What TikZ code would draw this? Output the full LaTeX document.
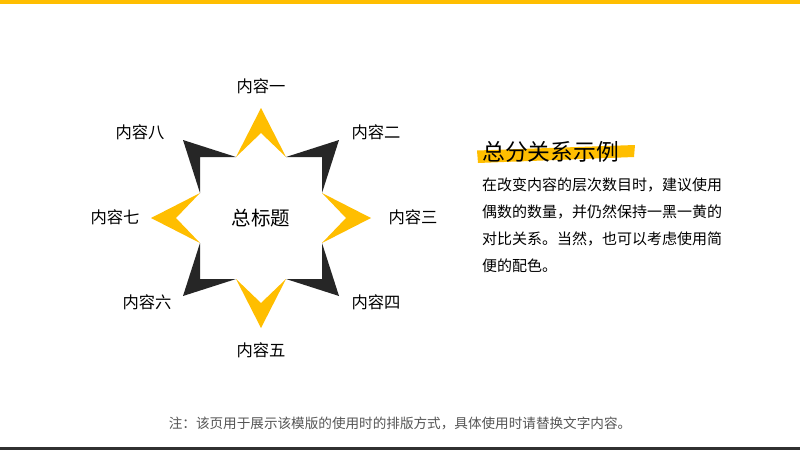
\documentclass[tikz,border=0pt]{standalone}
\usepackage{fontspec}
\setmainfont{Noto Sans CJK SC}
\definecolor{myyellow}{HTML}{FFBE00}
\definecolor{myblack}{HTML}{262626}
\definecolor{notegray}{HTML}{555555}
\begin{document}
\begin{tikzpicture}[x=1pt,y=-1pt,
  lbl/.style={font=\fontsize{16.3}{18}\selectfont, text=black, inner sep=0pt},
  ypiece/.style={fill=myyellow, draw=none},
  bpiece/.style={fill=myblack, draw=none}]
\useasboundingbox (0,0) rectangle (800,450);
\fill[white] (0,0) rectangle (800,450);
% top and bottom bars
\fill[myyellow] (0,0) rectangle (800,3.5);
\fill[myblack!95] (0,446.5) rectangle (800,450);
% star
\begin{scope}[shift={(261,218)}]
  \fill[ypiece] (-25,-61) -- (0,-110) -- (25,-61) -- (0,-85) -- cycle;
  \fill[ypiece] (-25,61) -- (0,110) -- (25,61) -- (0,85) -- cycle;
  \fill[ypiece] (-61,-25) -- (-110,0) -- (-61,25) -- (-85,0) -- cycle;
  \fill[ypiece] (61,-25) -- (110,0) -- (61,25) -- (85,0) -- cycle;
  \fill[bpiece] (25,-61) -- (78,-78) -- (61,-25) -- (61,-61) -- cycle;
  \fill[bpiece] (-25,-61) -- (-78,-78) -- (-61,-25) -- (-61,-61) -- cycle;
  \fill[bpiece] (25,61) -- (78,78) -- (61,25) -- (61,61) -- cycle;
  \fill[bpiece] (-25,61) -- (-78,78) -- (-61,25) -- (-61,61) -- cycle;
\end{scope}
\node[font=\fontsize{19.5}{22}\selectfont, inner sep=0pt] (c) at (261,218) {总标题};
% labels
\node[lbl] (l1) at (261,86) {内容一};
\node[lbl] (l2) at (376,132) {内容二};
\node[lbl] (l3) at (413,217) {内容三};
\node[lbl] (l4) at (376,302) {内容四};
\node[lbl] (l5) at (261,350) {内容五};
\node[lbl] (l6) at (147,302) {内容六};
\node[lbl] (l7) at (115,217) {内容七};
\node[lbl] (l8) at (140,132) {内容八};
% title highlight
\fill[myyellow] (477,150.5) -- (635,145) -- (634,157) -- (478,163) -- cycle;
\node[font=\fontsize{22.8}{26}\selectfont, anchor=west, inner sep=0pt] (title) at (482,152) {总分关系示例};
% body text
\node[anchor=north west, align=left, inner sep=0pt,
      font=\fontsize{15}{27}\selectfont] (body) at (482,178)
  {在改变内容的层次数目时，建议使用\\偶数的数量，并仍然保持一黑一黄的\\对比关系。当然，也可以考虑使用简\\便的配色。};
% footnote
\node[font=\fontsize{13.6}{15}\selectfont, text=notegray, inner sep=0pt] (note) at (400,423)
  {注：该页用于展示该模版的使用时的排版方式，具体使用时请替换文字内容。};
\end{tikzpicture}
\end{document}
